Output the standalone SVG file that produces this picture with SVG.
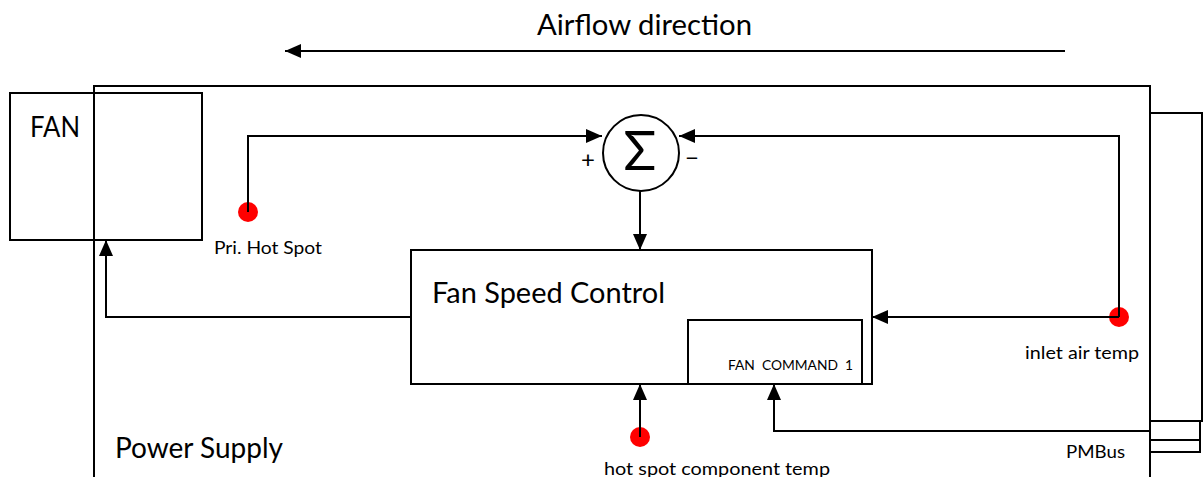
<svg xmlns="http://www.w3.org/2000/svg" width="1204" height="477" viewBox="0 0 1204 477">
<style>
.box{fill:none;stroke:#000;stroke-width:2}
.wire{fill:none;stroke:#000;stroke-width:2}
.dot{fill:#ff0000}
text{font-family:Lato,"Open Sans","Liberation Sans",sans-serif;fill:#000}
.big{font-size:28px}
.sm{font-size:17px}
</style>
<defs>
<marker id="ah" markerUnits="userSpaceOnUse" markerWidth="16" markerHeight="14" refX="16" refY="7" orient="auto">
<path d="M0,0 L16,7 L0,14 z" fill="#000"/>
</marker>
</defs>
<rect width="1204" height="477" fill="#fff"/>
<text class="big" x="537" y="35" textLength="215" lengthAdjust="spacingAndGlyphs">Airflow direction</text>
<g id="power-supply">
<rect class="box" x="94" y="86" width="1056" height="400"/>
<text class="big" x="115" y="458" textLength="168" lengthAdjust="spacingAndGlyphs">Power Supply</text>
</g>
<g id="fan">
<rect class="box" x="10" y="93" width="192" height="147"/>
<text class="big" x="30" y="137" textLength="50" lengthAdjust="spacingAndGlyphs">FAN</text>
</g>
<g id="right-panel">
<rect class="box" x="1150" y="113" width="52" height="308"/>
<rect class="box" x="1150" y="421" width="50" height="19"/>
<rect class="box" x="1150" y="440" width="50" height="12"/>
</g>
<g id="pmbus-label">
<text class="sm" x="1066" y="458" textLength="59" lengthAdjust="spacingAndGlyphs">PMBus</text>
</g>
<g id="fan-speed-control">
<rect class="box" x="411" y="250" width="461" height="134"/>
<text class="big" x="432" y="303" textLength="233" lengthAdjust="spacingAndGlyphs">Fan Speed Control</text>
</g>
<g id="fan-command">
<rect class="box" x="688" y="320" width="174" height="64"/>
<text x="728" y="370" font-size="13" textLength="125" lengthAdjust="spacingAndGlyphs" xml:space="preserve">FAN  COMMAND  1</text>
</g>
<g id="sum">
<circle cx="641" cy="153" r="38" fill="#fff" stroke="#000" stroke-width="2"/>
<text x="640" y="170" font-size="54" text-anchor="middle" font-family="'DejaVu Sans',sans-serif">Σ</text>
<text x="588" y="168" font-size="24" text-anchor="middle" font-family="'DejaVu Sans',sans-serif">+</text>
<text x="692" y="166" font-size="24" text-anchor="middle" font-family="'DejaVu Sans',sans-serif">−</text>
</g>
<g id="pri-hot-spot">
<circle class="dot" cx="248" cy="212" r="10"/>
<text class="sm" x="214" y="254" textLength="108" lengthAdjust="spacingAndGlyphs">Pri. Hot Spot</text>
</g>
<g id="inlet-air-temp">
<circle class="dot" cx="1119" cy="317" r="10"/>
<text class="sm" x="1025" y="359" textLength="114" lengthAdjust="spacingAndGlyphs">inlet air temp</text>
</g>
<g id="hot-spot-component">
<circle class="dot" cx="640" cy="437" r="10"/>
<text class="sm" x="604" y="475" textLength="226" lengthAdjust="spacingAndGlyphs">hot spot component temp</text>
</g>
<g id="connectors">
<path class="wire" d="M1065,51 H285" marker-end="url(#ah)"/>
<path class="wire" d="M248,212 V136 H602" marker-end="url(#ah)"/>
<path class="wire" d="M1119,317 V136 H679" marker-end="url(#ah)"/>
<path class="wire" d="M1119,317 H872" marker-end="url(#ah)"/>
<path class="wire" d="M640,191 V250" marker-end="url(#ah)"/>
<path class="wire" d="M411,317 H106 V240" marker-end="url(#ah)"/>
<path class="wire" d="M640,437 V384" marker-end="url(#ah)"/>
<path class="wire" d="M1150,431 H774 V384" marker-end="url(#ah)"/>
</g>
</svg>
